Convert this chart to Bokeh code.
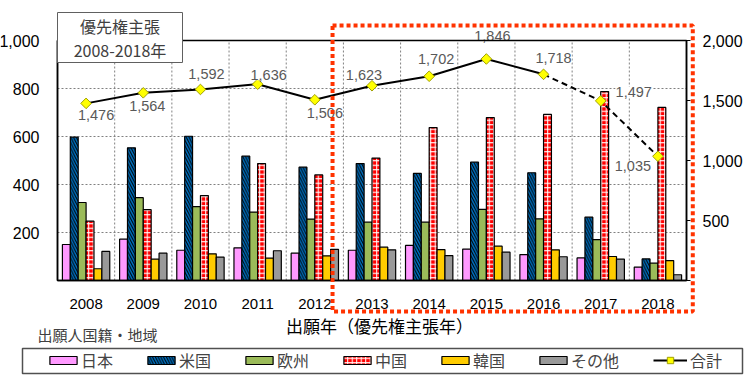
from bokeh.plotting import figure
from bokeh.models import (Range1d, LinearAxis, FixedTicker, NumeralTickFormatter,
                          ColumnDataSource, LabelSet, Label, Legend, LegendItem, BoxAnnotation)
from bokeh.transform import dodge
from bokeh.core.properties import value
from bokeh.embed import file_html
from bokeh.resources import INLINE

# ---------------- data ----------------
years = ["2008", "2009", "2010", "2011", "2012", "2013", "2014", "2015", "2016", "2017", "2018"]
japan = [150, 172, 126, 136, 114, 126, 146, 131, 108, 94, 56]
usa = [597, 553, 601, 518, 472, 487, 446, 493, 449, 264, 90]
europe = [325, 345, 308, 285, 256, 243, 243, 296, 257, 170, 72]
china = [247, 295, 354, 487, 440, 510, 637, 679, 692, 787, 721]
korea = [49, 89, 111, 93, 103, 139, 129, 143, 128, 100, 83]
other = [121, 114, 97, 124, 130, 128, 104, 118, 99, 89, 24]
totals = [1476, 1564, 1592, 1636, 1506, 1623, 1702, 1846, 1718, 1497, 1035]
series_names = ["日本", "米国", "欧州", "中国", "韓国", "その他"]
total_name = "合計"
left_ticks = [200, 400, 600, 800, 1000]
right_ticks = [0, 500, 1000, 1500, 2000]
left_max = 1000
right_max = 2000

# label placement (screen px offsets of the total labels)
lab_dx = [10, 4, 6, 11, 10, -8, 7, 6, 10, 33, -25]
lab_dy = [-12, -13, 15, 9, -13, 11, 17, 23, 16, 9, -10]

CJK = "Noto Sans CJK JP"
NUM = "Liberation Sans"

# ---------------- layout constants (page pixels) ----------------
OX, OY = 0, 0          # page position of the figure
FW, FH = 748, 386      # figure size; the frame fills it
X0, X1 = 57, 686       # chart area, left / right
YT, YB = 40, 280       # chart area, top / bottom
LEG_MID = 361          # vertical centre of the legend row
n = len(years)
CW = (X1 - X0) / n
KY = (YB - YT) / left_max
KT = (YB - YT) / right_max


def xd(px):
    return (px - X0) / CW - 0.5


def yd(py):
    return (YB - py) / KY


p = figure(width=FW, height=FH,
           x_range=Range1d(xd(OX), xd(OX + FW)),
           y_range=Range1d(yd(OY + FH), yd(OY)),
           x_axis_location=None, y_axis_location=None,
           output_backend="svg", toolbar_location=None, title=None,
           min_border=0, background_fill_color="white", border_fill_color="white")
p.outline_line_color = None
p.grid.visible = False
p.extra_y_ranges = {"total": Range1d((YB - OY - FH) / KT, (YB - OY) / KT)}

xc = list(range(n))
left_edge, right_edge = -0.5, n - 0.5

# grid lines
gv = [i + 0.5 for i in range(n - 1)]
p.segment(x0=gv, x1=gv, y0=[0] * len(gv), y1=[left_max] * len(gv),
          line_color="#808080", line_dash="2 2", line_width=1)
gh = left_ticks[:-1]
p.segment(x0=[left_edge] * len(gh), x1=[right_edge] * len(gh), y0=gh, y1=gh,
          line_color="#808080", line_dash="2 2", line_width=1)

# axes
yl = LinearAxis(fixed_location=left_edge, bounds=(0, left_max),
                ticker=FixedTicker(ticks=left_ticks), formatter=NumeralTickFormatter(format="0,0"))
yl.major_tick_line_color = None
yl.minor_tick_line_color = None
yl.major_label_standoff = 12
yl.major_label_text_font = NUM
yl.major_label_text_font_size = "16px"
yl.major_label_text_color = "black"
yl.axis_line_color = "black"
yl.axis_line_width = 1.5
p.add_layout(yl, "left")

yr = LinearAxis(y_range_name="total", fixed_location=right_edge, bounds=(0, right_max),
                ticker=FixedTicker(ticks=right_ticks), formatter=NumeralTickFormatter(format="0,0"),
                major_label_overrides={0: ""})
yr.major_tick_out = 4
yr.major_tick_in = 0
yr.major_tick_line_color = "black"
yr.minor_tick_line_color = None
yr.major_label_standoff = 12
yr.major_label_text_font = NUM
yr.major_label_text_font_size = "16px"
yr.major_label_text_color = "black"
yr.axis_line_color = "black"
yr.axis_line_width = 1.5
p.add_layout(yr, "right")

xa = LinearAxis(fixed_location=0, bounds=(left_edge, right_edge),
                ticker=FixedTicker(ticks=xc),
                major_label_overrides={i: y for i, y in zip(xc, years)})
xa.major_tick_line_color = None
xa.minor_tick_line_color = None
xa.axis_line_color = "black"
xa.axis_line_width = 1.5
xa.major_label_standoff = 12
xa.major_label_text_font = NUM
xa.major_label_text_font_size = "15px"
xa.major_label_text_color = "black"
p.add_layout(xa, "below")

# bars
src = ColumnDataSource(dict(xc=xc, year=years, japan=japan, usa=usa, europe=europe,
                            china=china, korea=korea, other=other))
bw = 0.138
offsets = [-2.5 * bw, -1.5 * bw, -0.5 * bw, 0.5 * bw, 1.5 * bw, 2.5 * bw]
styles = [
    dict(fill_color="#FF99FF"),
    dict(fill_color="#0070C0", hatch_pattern="\\", hatch_color="black", hatch_scale=5.5, hatch_weight=1),
    dict(fill_color="#9BBB59"),
    dict(fill_color="#FF0000", hatch_pattern="+", hatch_color="white", hatch_scale=4.5, hatch_weight=1),
    dict(fill_color="#FFCC00"),
    dict(fill_color="#999999"),
]
fields = ["japan", "usa", "europe", "china", "korea", "other"]
bar_renderers = []
for f, off, st in zip(fields, offsets, styles):
    r = p.vbar(x=dodge("xc", off), top=f, width=bw, source=src,
               line_color="black", line_width=1.2, **st)
    bar_renderers.append(r)

# total line
solid = p.line(x=xc[:9], y=totals[:9], y_range_name="total", line_color="black", line_width=2)
p.line(x=xc[8:], y=totals[8:], y_range_name="total", line_color="black", line_width=2,
       line_dash="6 4")
pts = p.scatter(x=xc, y=totals, y_range_name="total", marker="square", angle=0.785398, size=7.5,
                fill_color="#FFFF00", line_color="#A0A000", line_width=1)

lsrc = ColumnDataSource(dict(x=xc, y=totals, t=[f"{v:,}" for v in totals], dx=lab_dx, dy=lab_dy))
p.add_layout(LabelSet(x="x", y="y", text="t", x_offset="dx", y_offset="dy", source=lsrc,
                      y_range_name="total", text_align="center", text_baseline="middle",
                      text_font=value(NUM), text_font_size="14.5px", text_color="#595959",
                      background_fill_color="white"))

# chart border
p.add_layout(BoxAnnotation(left=left_edge, right=right_edge, bottom=0, top=left_max,
                           fill_alpha=0, line_color="black", line_alpha=1, line_width=1.5))

# title box
p.add_layout(BoxAnnotation(left=xd(X0), right=xd(182), top=yd(12), bottom=yd(62),
                           fill_color="white", fill_alpha=1, line_color="#606060",
                           line_alpha=1, line_width=1))
p.add_layout(Label(x=xd(119.5), y=yd(25), text="優先権主張", text_align="center",
                   text_baseline="middle", text_font=CJK, text_font_size="16px",
                   text_color="#404040"))
p.add_layout(Label(x=xd(119.5), y=yd(49), text="2008-2018年", text_align="center",
                   text_baseline="middle", text_font=CJK, text_font_size="16px",
                   text_color="#404040"))

# axis titles
p.add_layout(Label(x=xd(379), y=yd(325), text="出願年（優先権主張年）", text_align="center",
                   text_baseline="middle", text_font=CJK, text_font_size="17px",
                   text_color="black"))
p.add_layout(Label(x=xd(37), y=yd(334), text="出願人国籍・地域", text_align="left",
                   text_baseline="middle", text_font=CJK, text_font_size="15px",
                   text_color="#404040"))

# highlight box around 2013-2018
i13 = years.index("2013")
p.add_layout(BoxAnnotation(left=i13 - 0.5 - 0.19, right=right_edge + 0.11, top=yd(25), bottom=yd(311),
                           fill_alpha=0, line_color="#FF3300", line_alpha=1, line_width=4,
                           line_dash="4 3"))

# legend
p.add_layout(BoxAnnotation(left=xd(22), right=xd(742), top=yd(348), bottom=yd(373),
                           fill_color="white", fill_alpha=1, line_color="#505050",
                           line_alpha=1, line_width=1.5))
leg_vy = (OY + FH) - (LEG_MID + 11)
items = [LegendItem(label=nm, renderers=[r]) for nm, r in zip(series_names, bar_renderers)]
leg1 = Legend(items=items, orientation="horizontal", location=(46 - OX, leg_vy),
              glyph_width=34, glyph_height=10, label_standoff=1, spacing=31, padding=0, margin=0,
              border_line_alpha=0, background_fill_alpha=0,
              label_text_font=CJK, label_text_font_size="16px")
p.add_layout(leg1)
leg2 = Legend(items=[LegendItem(label=total_name, renderers=[solid, pts])], orientation="horizontal",
              location=(653 - OX, leg_vy), glyph_width=34, glyph_height=16, label_standoff=3,
              padding=0, margin=0, border_line_alpha=0, background_fill_alpha=0,
              label_text_font=CJK, label_text_font_size="16px")
p.add_layout(leg2)

open("out.html", "w").write(file_html(p, INLINE))
